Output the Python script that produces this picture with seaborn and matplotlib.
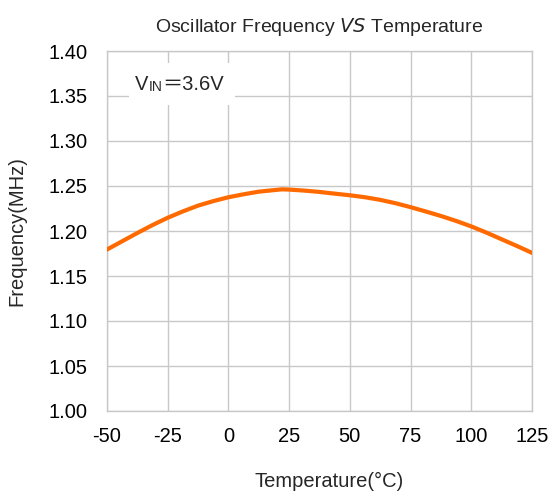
import pandas as pd
import matplotlib.pyplot as plt
import seaborn as sns
from matplotlib.patches import Rectangle

# values
temperature = [-50, -43.75, -37.5, -31.25, -25, -18.75, -12.5, -6.25, 0, 6.25, 12.5, 22, 25,
               31.25, 37.5, 43.75, 50, 56.25, 62.5, 68.75, 75, 81.25, 87.5, 93.75, 100,
               106.25, 112.5, 118.75, 125]
frequency = [1.1794, 1.1886, 1.1978, 1.2066, 1.2147, 1.2218, 1.2282, 1.2332, 1.2375, 1.2408,
             1.2437, 1.2463, 1.2460, 1.2449, 1.2434, 1.2415, 1.2397, 1.2375, 1.2346, 1.2309,
             1.2265, 1.2217, 1.2167, 1.2112, 1.2051, 1.1982, 1.1908, 1.1834, 1.1757]
x_ticks = [-50, -25, 0, 25, 50, 75, 100, 125]
y_ticks = [1.00, 1.05, 1.10, 1.15, 1.20, 1.25, 1.30, 1.35, 1.40]

df = pd.DataFrame({'Temperature': temperature, 'Frequency': frequency})

sns.set_style('white')
plt.rcParams['font.family'] = ['Liberation Sans', 'Noto Sans CJK JP', 'DejaVu Sans']

fig = plt.figure(figsize=(5.51, 4.92), dpi=100)
ax = fig.add_axes([107 / 551, 81 / 492, 425 / 551, 360 / 492])

sns.lineplot(data=df, x='Temperature', y='Frequency', color='#ff6a00', linewidth=3, ax=ax, zorder=3)

ax.set_xlim(-50, 125)
ax.set_ylim(1.00, 1.40)
ax.set_xticks(x_ticks)
ax.set_xticklabels([str(t) for t in x_ticks])
ax.set_yticks(y_ticks)
ax.set_yticklabels([f'{t:.2f}' for t in y_ticks])
ax.grid(True, color='#c8c8c8', linewidth=1)
for s in ax.spines.values():
    s.set_color('#c8c8c8')
    s.set_linewidth(1)
ax.tick_params(axis='x', length=0, pad=11.5, labelsize=14.5, colors='black')
ax.tick_params(axis='y', length=0, pad=13.7, labelsize=14.5, colors='black')

ax.set_xlabel('Temperature(°C)', fontsize=14.5, labelpad=18.5)
ax.xaxis.label.set_x(0.522)
ax.set_ylabel('Frequency(MHz)', fontsize=14.5, labelpad=16)
ax.set_title('Oscillator Frequency $\\mathit{VS}$ Temperature', fontsize=14, pad=13.4)

# white box behind the VIN note
ax.add_patch(Rectangle((-40.9, 1.34), 43.6, 0.0467, facecolor='white', edgecolor='none', zorder=2))
t1 = ax.text(-38.5, 1.3567, 'V', fontsize=14.5, va='baseline', ha='left', zorder=4)
t2 = ax.annotate('IN', xy=(1, 0), xycoords=t1, fontsize=10, va='bottom', ha='left', zorder=4)
ax.annotate('＝3.6V', xy=(1, 0), xycoords=t2, fontsize=14.5, va='bottom', ha='left', zorder=4)

fig.savefig('out.png', dpi=100)
